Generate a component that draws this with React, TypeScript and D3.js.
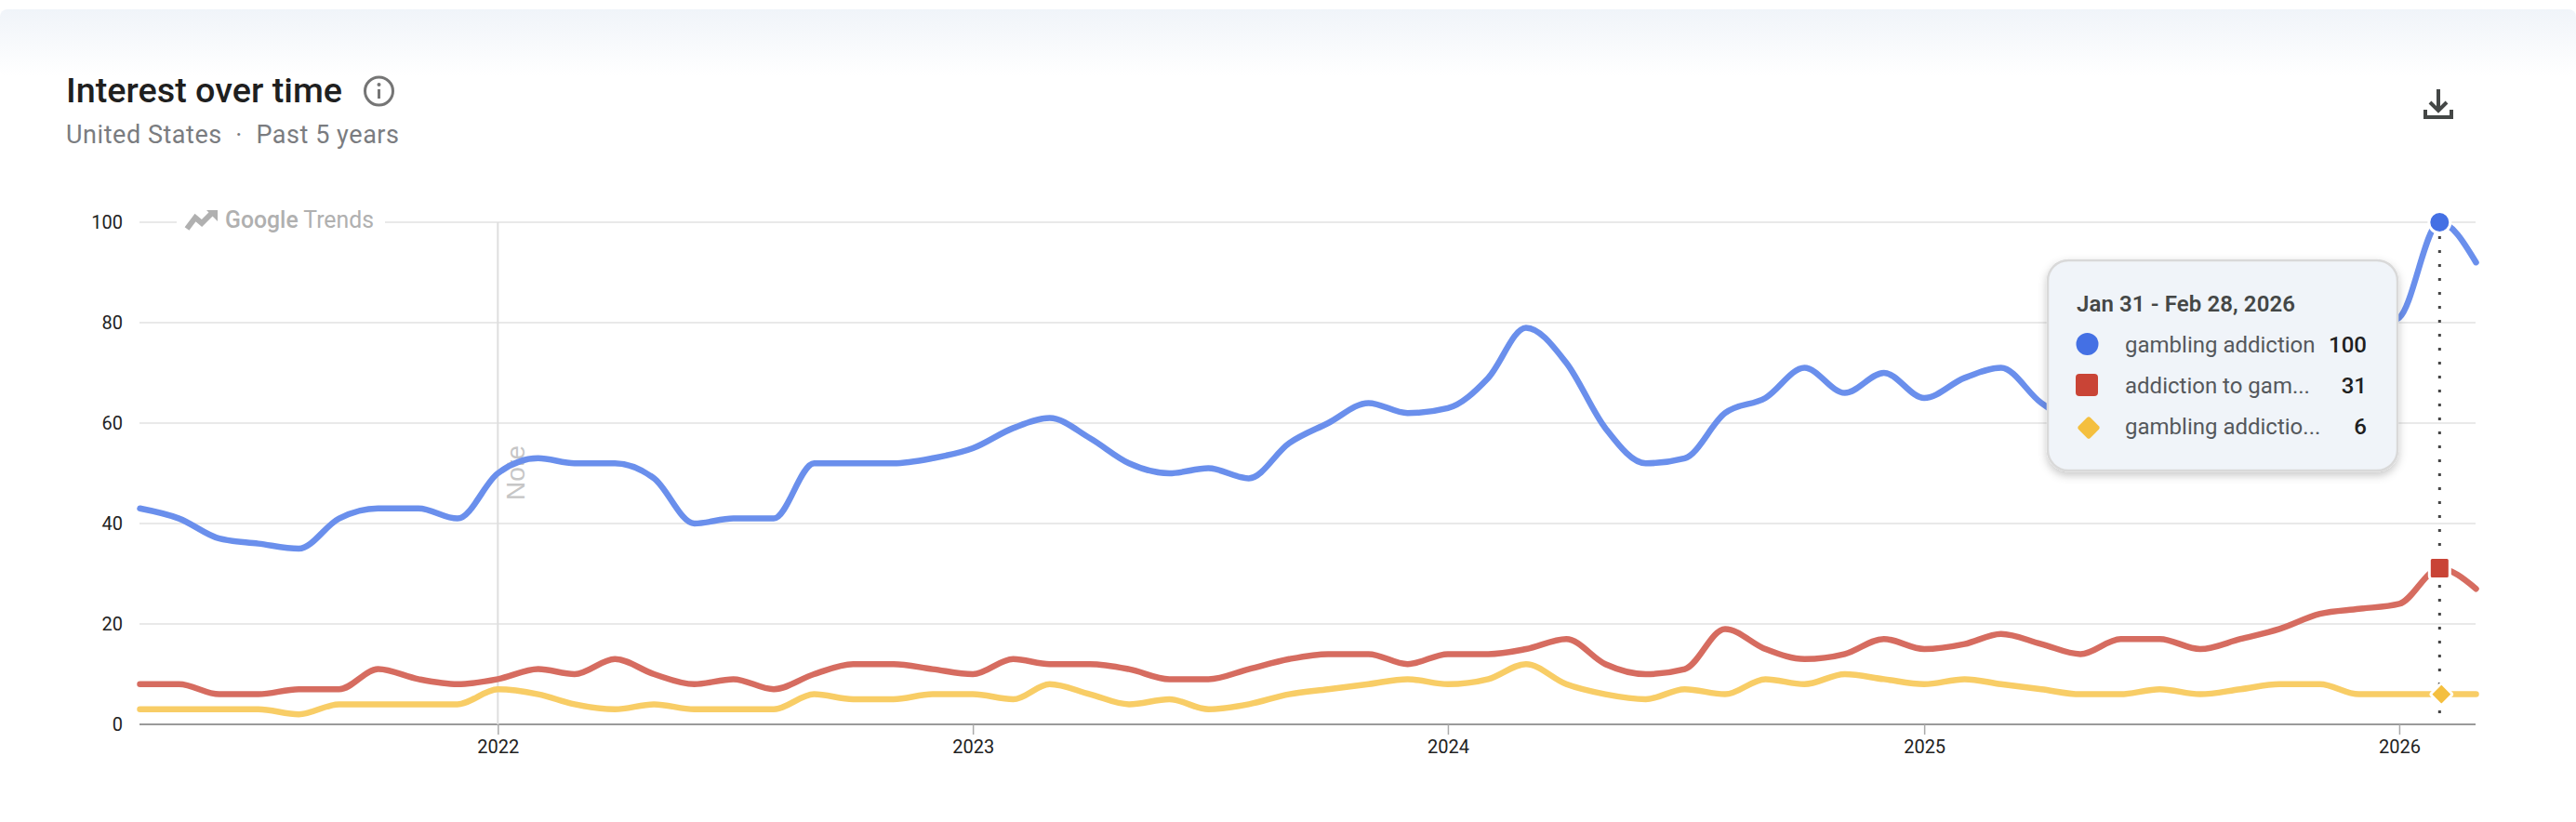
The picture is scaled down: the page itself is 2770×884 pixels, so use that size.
import React, { useEffect, useRef } from 'react'
import * as d3 from 'd3'

const WIDTH = 2770
const HEIGHT = 884

// monthly points, Apr 2021 to Mar 2026
const months = d3.timeMonth.range(new Date(2021, 3, 1), new Date(2026, 3, 1))

const gamblingAddiction = [
    43, 41, 37, 36, 35, 41, 43, 43, 41, 50,
    53, 52, 52, 49, 40, 41, 41, 52, 52, 52,
    53, 55, 59, 61, 57, 52, 50, 51, 49, 56,
    60, 64, 62, 63, 69, 79, 72, 59, 52, 53,
    62, 65, 71, 66, 70, 65, 69, 71, 64, 60,
    62, 61, 63, 65, 70, 74, 78, 81, 100, 92,
]
const addictionToGambling = [
    8, 8, 6, 6, 7, 7, 11, 9, 8, 9,
    11, 10, 13, 10, 8, 9, 7, 10, 12, 12,
    11, 10, 13, 12, 12, 11, 9, 9, 11, 13,
    14, 14, 12, 14, 14, 15, 17, 12, 10, 11,
    19, 15, 13, 14, 17, 15, 16, 18, 16, 14,
    17, 17, 15, 17, 19, 22, 23, 24, 31, 27,
]
const gamblingAddictionHelp = [
    3, 3, 3, 3, 2, 4, 4, 4, 4, 7,
    6, 4, 3, 4, 3, 3, 3, 6, 5, 5,
    6, 6, 5, 8, 6, 4, 5, 3, 4, 6,
    7, 8, 9, 8, 9, 12, 8, 6, 5, 7,
    6, 9, 8, 10, 9, 8, 9, 8, 7, 6,
    6, 7, 6, 7, 8, 8, 6, 6, 6, 6,
]

const yTicks = [0, 20, 40, 60, 80, 100]
const hoverIndex = 58
const tooltipDate = 'Jan 31 - Feb 28, 2026'
const tooltipNames = ['gambling addiction', 'addiction to gam...', 'gambling addictio...']

const lineColors = ['#6a8fec', '#d66c60', '#f8cd66']
const markColors = ['#4470e4', '#c94436', '#f4bf3f']
const FONT = 'Roboto, sans-serif'

const App = () => {
    const svgRef = useRef<SVGSVGElement>(null)

    useEffect(() => {
        const svg: any = d3.select(svgRef.current)
        svg.selectAll('*').remove()

        const x = d3.scaleTime([months[0], months[months.length - 1]], [150.5, 2662.5])
        const y = d3.scaleLinear([0, 100], [779, 239])

        const defs = svg.append('defs')
        const band = defs.append('linearGradient').attr('id', 'band').attr('x1', 0).attr('x2', 0).attr('y1', 0).attr('y2', 1)
        band.append('stop').attr('offset', 0).attr('stop-color', '#f0f4f9')
        band.append('stop').attr('offset', 1).attr('stop-color', '#ffffff')
        const shadow = defs.append('filter').attr('id', 'tipShadow').attr('x', '-10%').attr('y', '-10%').attr('width', '120%').attr('height', '125%')
        shadow.append('feDropShadow').attr('dx', 0).attr('dy', 4).attr('stdDeviation', 5).attr('flood-color', '#000').attr('flood-opacity', 0.22)

        // header
        svg.append('rect').attr('x', 0).attr('y', 10).attr('width', WIDTH).attr('height', 72).attr('rx', 8).attr('fill', 'url(#band)')
        svg.append('text').attr('x', 71).attr('y', 110).attr('font-family', FONT).attr('font-size', 36).attr('font-weight', 500).attr('fill', '#1f1f1f')
            .attr('textLength', 297).attr('lengthAdjust', 'spacingAndGlyphs').text('Interest over time')
        svg.append('text').attr('x', 71).attr('y', 154).attr('font-family', FONT).attr('font-size', 27).attr('fill', '#7a7c80')
            .attr('textLength', 358).attr('xml:space', 'preserve').text('United States  ·  Past 5 years')

        const info = svg.append('g').attr('transform', 'translate(407.5,98)')
        info.append('circle').attr('r', 15).attr('fill', 'none').attr('stroke', '#757575').attr('stroke-width', 3)
        info.append('rect').attr('x', -1.5).attr('y', -2).attr('width', 3).attr('height', 10).attr('fill', '#757575')
        info.append('circle').attr('cy', -7).attr('r', 2).attr('fill', '#757575')

        const dl = svg.append('g').attr('transform', 'translate(2622,112)').attr('fill', 'none').attr('stroke', '#444746').attr('stroke-width', 4)
        dl.append('path').attr('d', 'M-14,6V14H14V6')
        dl.append('path').attr('d', 'M0,-16V7M-9,-2L0,7L9,-2')

        // axes
        const yAxis = svg.append('g').attr('transform', 'translate(150,0)')
            .call(d3.axisLeft(y).tickValues(yTicks).tickSize(0).tickPadding(18))
        yAxis.select('.domain').remove()
        yAxis.selectAll('text').attr('font-family', FONT).attr('font-size', 20).attr('fill', '#222')

        svg.append('g').selectAll('line').data(yTicks).join('line')
            .attr('x1', 150).attr('x2', 2662)
            .attr('y1', (d: number) => y(d)).attr('y2', (d: number) => y(d))
            .attr('stroke', (d: number) => (d === 0 ? '#9a9a9a' : '#e9e9e9')).attr('stroke-width', 2)

        const xAxis = svg.append('g').attr('transform', 'translate(0,779)')
            .call(d3.axisBottom(x).ticks(d3.timeYear.every(1)).tickFormat(d3.timeFormat('%Y') as any).tickSize(11).tickPadding(6))
        xAxis.select('.domain').remove()
        xAxis.selectAll('line').attr('stroke', '#aaa').attr('stroke-width', 1.5)
        xAxis.selectAll('text').attr('font-family', FONT).attr('font-size', 20).attr('fill', '#222')

        // note marker at 2022
        const noteX = x(new Date(2022, 0, 1))
        svg.append('line').attr('x1', noteX).attr('x2', noteX).attr('y1', y(100)).attr('y2', y(0)).attr('stroke', '#dedede').attr('stroke-width', 2)
        svg.append('text').attr('transform', `translate(564,538) rotate(-90)`).attr('font-family', 'Liberation Sans, Arial, sans-serif')
            .attr('font-size', 28).attr('fill', '#c6c6c6').text('Note')

        // watermark
        svg.append('rect').attr('x', 190).attr('y', 225).attr('width', 224).attr('height', 30).attr('fill', '#fff')
        svg.append('path').attr('d', 'M201,246L210,234L217,240L229,228').attr('fill', 'none')
            .attr('stroke', '#b0b0b0').attr('stroke-width', 6)
        svg.append('path').attr('d', 'M222,226H234V238Z').attr('fill', '#b0b0b0')
        const mark = svg.append('text').attr('x', 242).attr('y', 245).attr('font-family', FONT).attr('font-size', 25).attr('fill', '#b0b0b0')
            .attr('textLength', 160).attr('lengthAdjust', 'spacingAndGlyphs')
        mark.append('tspan').attr('font-weight', 500).text('Google')
        mark.append('tspan').text(' Trends')

        // series
        const line = d3.line<number>()
            .x((_, i) => x(months[i]))
            .y(d => y(d))
            .curve(d3.curveMonotoneX)
        const series = [gamblingAddiction, addictionToGambling, gamblingAddictionHelp]
        series.forEach((values, i) => {
            svg.append('path').attr('d', line(values)).attr('fill', 'none').attr('stroke', lineColors[i])
                .attr('stroke-width', 6.5).attr('stroke-linecap', 'round').attr('stroke-linejoin', 'round')
        })

        // hover guide and markers
        const hx = x(months[hoverIndex])
        svg.append('line').attr('x1', hx).attr('x2', hx).attr('y1', 254).attr('y2', 767)
            .attr('stroke', '#444').attr('stroke-width', 3).attr('stroke-dasharray', '3 12')

        const markers = svg.append('g').attr('stroke', '#fff').attr('stroke-width', 3)
        markers.append('circle').attr('cx', hx).attr('cy', y(series[0][hoverIndex])).attr('r', 11.5).attr('fill', markColors[0])
        markers.append('rect').attr('x', hx - 11).attr('y', y(series[1][hoverIndex]) - 12).attr('width', 22).attr('height', 23).attr('rx', 3).attr('fill', markColors[1])
        markers.append('rect').attr('x', -8.5).attr('y', -8.5).attr('width', 17).attr('height', 17).attr('rx', 2).attr('fill', markColors[2])
            .attr('transform', `translate(${hx + 2},${y(series[2][hoverIndex])}) rotate(45)`)

        // tooltip
        const tip = svg.append('g')
        tip.append('rect').attr('x', 2202).attr('y', 280).attr('width', 376).attr('height', 226).attr('rx', 22)
            .attr('fill', '#f0f4f9').attr('stroke', '#d9d9d9').attr('stroke-width', 2.5).attr('filter', 'url(#tipShadow)')
        tip.append('text').attr('x', 2233).attr('y', 335).attr('font-family', FONT).attr('font-size', 24).attr('font-weight', 600)
            .attr('fill', '#444746').attr('textLength', 235).text(tooltipDate)

        const rowY = [379, 423, 467]
        tip.append('circle').attr('cx', 2244.5).attr('cy', 370).attr('r', 12).attr('fill', markColors[0])
        tip.append('rect').attr('x', 2232).attr('y', 402).attr('width', 24).attr('height', 24).attr('rx', 4).attr('fill', markColors[1])
        tip.append('rect').attr('x', -9).attr('y', -9).attr('width', 18).attr('height', 18).attr('rx', 2.5).attr('fill', markColors[2])
            .attr('transform', 'translate(2246,460) rotate(45)')
        tooltipNames.forEach((name, i) => {
            tip.append('text').attr('x', 2285).attr('y', rowY[i]).attr('font-family', FONT).attr('font-size', 24).attr('fill', '#55585c').text(name)
            tip.append('text').attr('x', 2545).attr('y', rowY[i]).attr('text-anchor', 'end').attr('font-family', FONT).attr('font-size', 24)
                .attr('font-weight', 500).attr('fill', '#1f1f1f').text(series[i][hoverIndex])
        })
    }, [])

    return (
        <svg ref={svgRef} width={WIDTH} height={HEIGHT} viewBox={`0 0 ${WIDTH} ${HEIGHT}`}
            style={{ position: 'absolute', left: 0, top: 0, background: '#fff' }} />
    )
}

export default App
